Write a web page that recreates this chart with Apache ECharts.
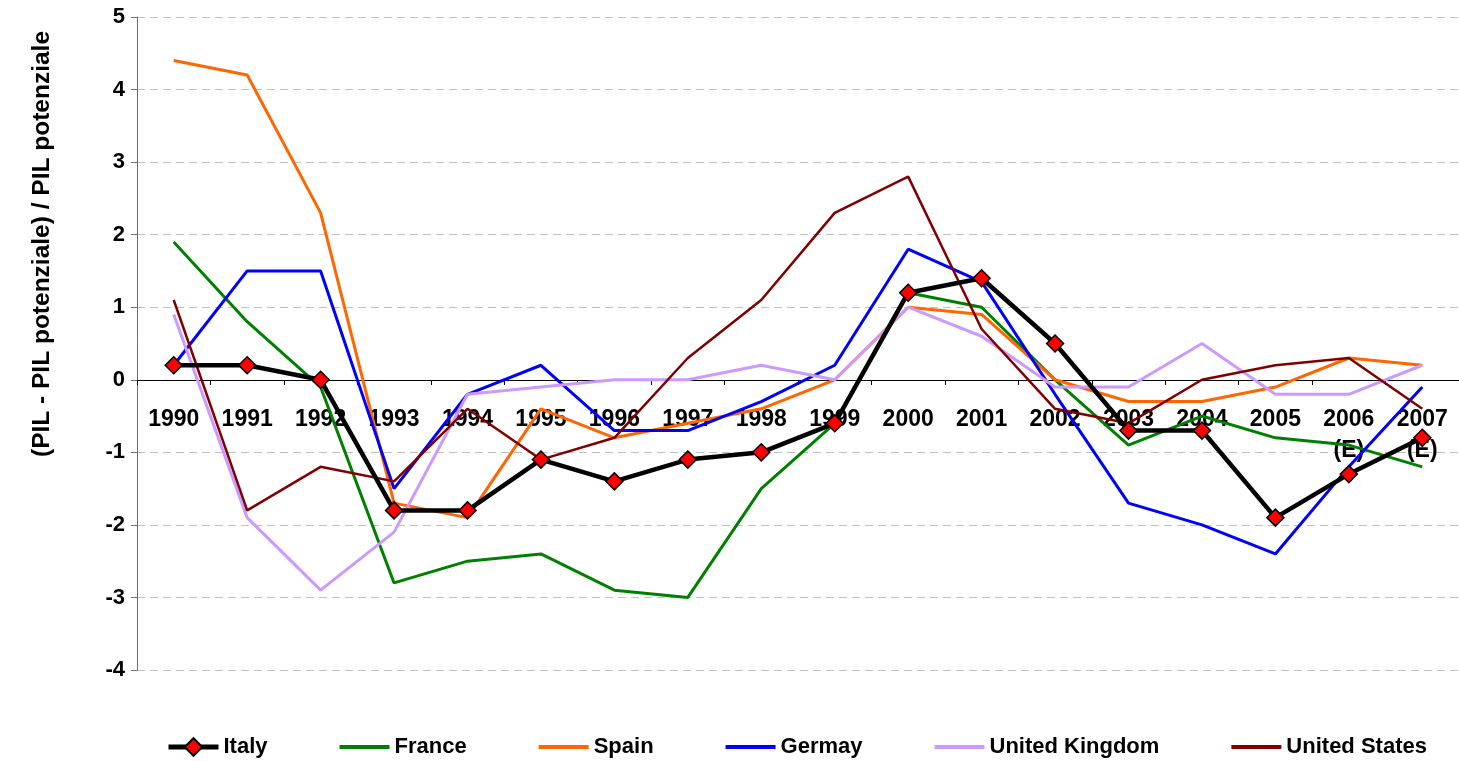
<!DOCTYPE html>
<html>
<head>
<meta charset="utf-8">
<script src="https://cdn.jsdelivr.net/npm/echarts@6/dist/echarts.min.js"></script>
<style>
  html, body { margin: 0; padding: 0; background: #fff; }
  #chart { width: 1459px; height: 761px; }
</style>
</head>
<body>
<div id="chart"></div>
<script>
var years = ['1990', '1991', '1992', '1993', '1994', '1995', '1996', '1997', '1998',
  '1999', '2000', '2001', '2002', '2003', '2004', '2005', '2006\n(E)', '2007\n(E)'];

var italy   = [0.2, 0.2, 0.0, -1.8, -1.8, -1.1, -1.4, -1.1, -1.0, -0.6, 1.2, 1.4, 0.5, -0.7, -0.7, -1.9, -1.3, -0.8];
var france  = [1.9, 0.8, -0.1, -2.8, -2.5, -2.4, -2.9, -3.0, -1.5, -0.6, 1.2, 1.0, 0.0, -0.9, -0.5, -0.8, -0.9, -1.2];
var spain   = [4.4, 4.2, 2.3, -1.7, -1.9, -0.4, -0.8, -0.6, -0.4, 0.0, 1.0, 0.9, 0.0, -0.3, -0.3, -0.1, 0.3, 0.2];
var germany = [0.2, 1.5, 1.5, -1.5, -0.2, 0.2, -0.7, -0.7, -0.3, 0.2, 1.8, 1.35, -0.2, -1.7, -2.0, -2.4, -1.2, -0.1];
var uk      = [0.9, -1.9, -2.9, -2.1, -0.2, -0.1, 0.0, 0.0, 0.2, 0.0, 1.0, 0.6, -0.1, -0.1, 0.5, -0.2, -0.2, 0.2];
var usa     = [1.1, -1.8, -1.2, -1.4, -0.4, -1.1, -0.8, 0.3, 1.1, 2.3, 2.8, 0.7, -0.4, -0.6, 0.0, 0.2, 0.3, -0.4];

var font = 'Liberation Sans, Arial, sans-serif';
// plain line icon for the legend (no marker)
var lineIcon = 'path://M0,0L50,0L50,4L0,4Z';

var chartDom = document.getElementById('chart');
var myChart = echarts.init(chartDom);

function plainLine(name, data, color, width) {
  return {
    name: name,
    type: 'line',
    data: data,
    symbol: 'none',
    lineStyle: { color: color, width: width },
    itemStyle: { color: color },
    z: 2
  };
}

var option = {
  animation: false,
  backgroundColor: '#fff',
  grid: { left: 137, right: 0, top: 17, bottom: 91 },
  legend: {
    left: 161,
    top: 731,
    itemWidth: 50,
    itemHeight: 22,
    itemGap: 72,
    textStyle: { fontFamily: font, fontWeight: 'bold', fontSize: 22, color: '#000' },
    data: [
      { name: 'Italy', lineStyle: { width: 5, color: '#000' } },
      { name: 'France', icon: lineIcon },
      { name: 'Spain', icon: lineIcon },
      { name: 'Germay', icon: lineIcon },
      { name: 'United Kingdom', icon: lineIcon },
      { name: 'United States', icon: lineIcon }
    ]
  },
  graphic: [{
    type: 'text',
    x: 42,
    y: 244,
    rotation: Math.PI / 2,
    style: {
      text: '(PIL - PIL potenziale) / PIL potenziale',
      font: 'bold 24.5px ' + font,
      fill: '#000',
      align: 'center',
      verticalAlign: 'middle'
    }
  }],
  xAxis: {
    type: 'category',
    data: years,
    boundaryGap: true,
    position: 'bottom',
    // put the category axis on the zero line (4 units above the bottom)
    offset: -290,
    axisLine: { onZero: false, lineStyle: { color: '#000', width: 1 } },
    axisTick: { show: true, length: 5, lineStyle: { color: '#000' } },
    axisLabel: {
      margin: 24,
      interval: 0,
      fontFamily: font,
      fontWeight: 'bold',
      fontSize: 23,
      lineHeight: 31,
      color: '#000'
    },
    splitLine: { show: false }
  },
  yAxis: {
    type: 'value',
    min: -4,
    max: 5,
    interval: 1,
    axisLine: { show: true, lineStyle: { color: '#6e6e6e', width: 1 } },
    axisTick: { show: true, length: 6, lineStyle: { color: '#6e6e6e' } },
    axisLabel: {
      margin: 12,
      fontFamily: font,
      fontWeight: 'bold',
      fontSize: 22,
      color: '#000'
    },
    splitLine: { show: true, lineStyle: { color: '#c0c0c0', type: [8, 5], width: 1 } }
  },
  series: [
    {
      name: 'Italy',
      type: 'line',
      data: italy,
      symbol: 'diamond',
      symbolSize: 17,
      lineStyle: { color: '#000', width: 4.5 },
      itemStyle: { color: '#ff0000', borderColor: '#000', borderWidth: 1.5 },
      z: 5
    },
    plainLine('France', france, '#008000', 3),
    plainLine('Spain', spain, '#ff6600', 3),
    plainLine('Germay', germany, '#0000ff', 3),
    plainLine('United Kingdom', uk, '#cc99ff', 3),
    plainLine('United States', usa, '#800000', 2.5)
  ]
};

myChart.setOption(option);
</script>
</body>
</html>
